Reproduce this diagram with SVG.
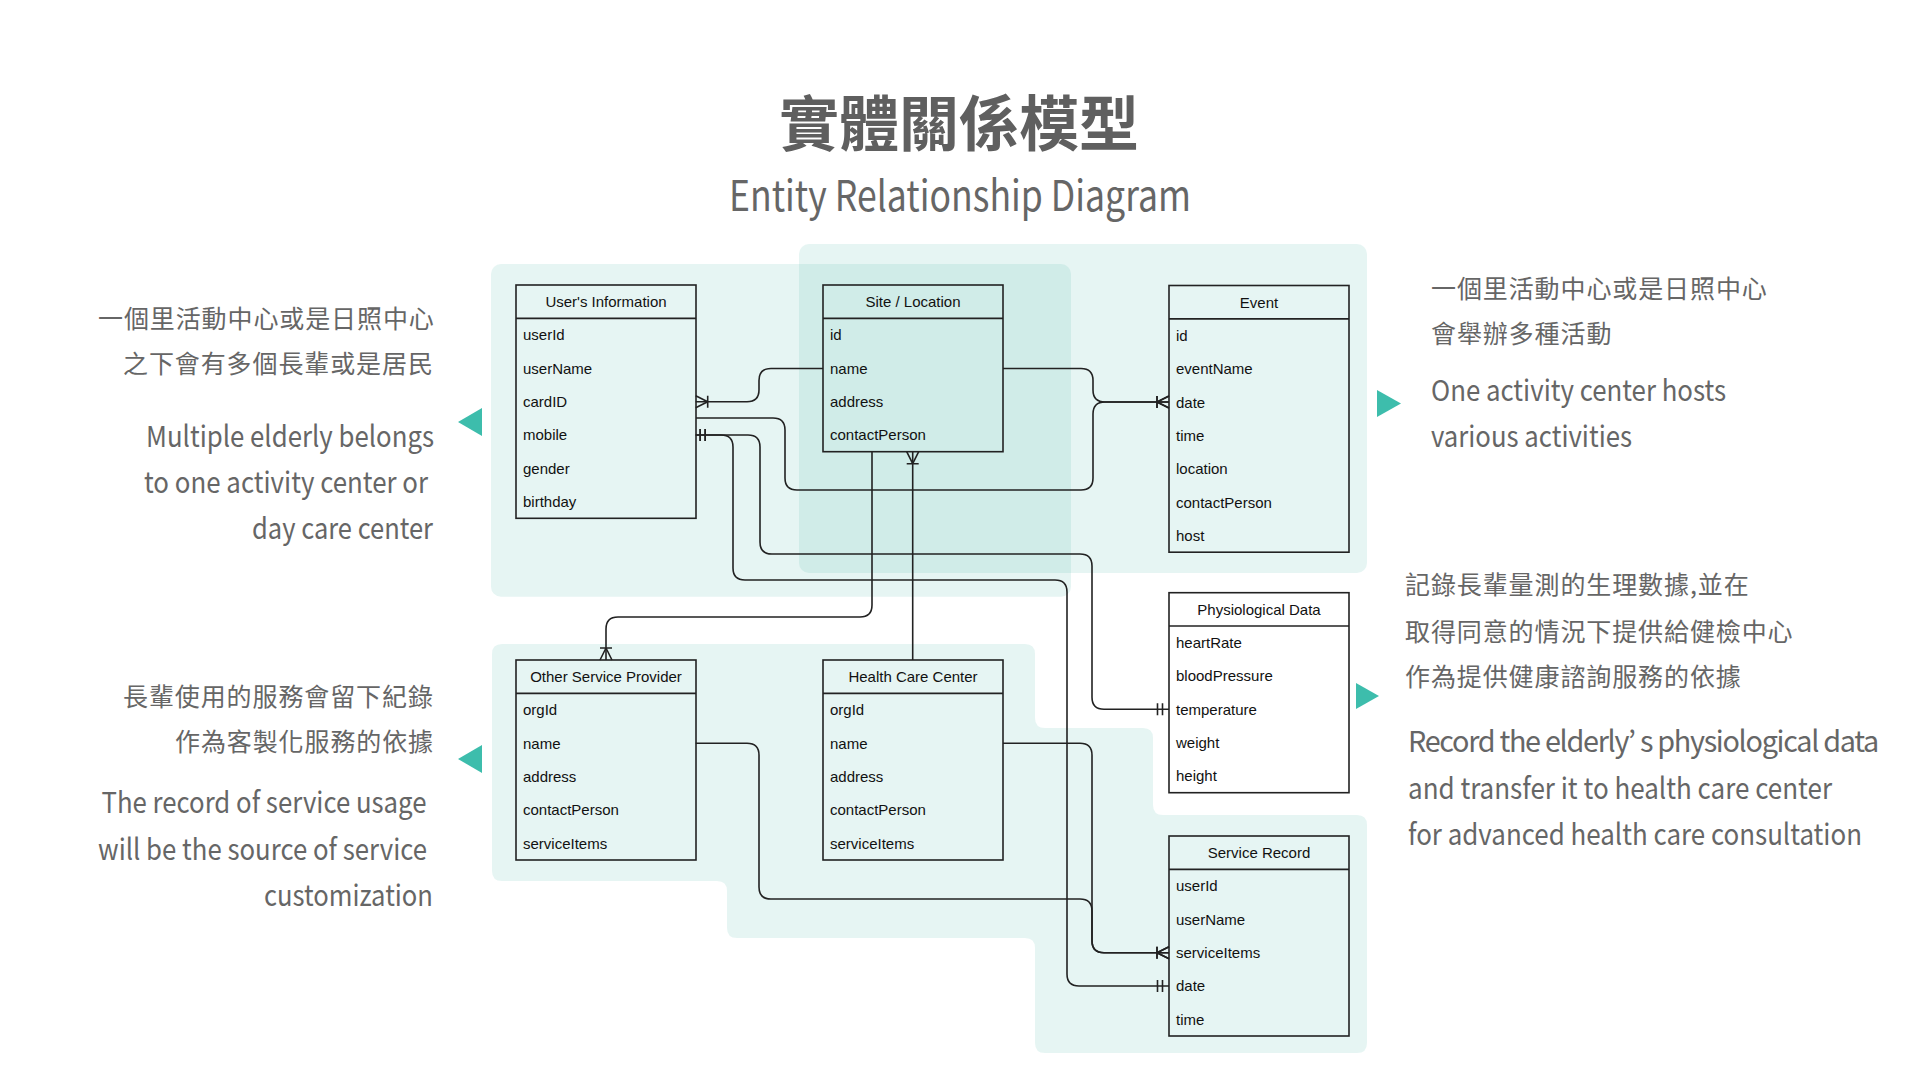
<svg xmlns="http://www.w3.org/2000/svg" width="1920" height="1080" viewBox="0 0 1920 1080">
<style>
.panel{fill:#2FAC9B;fill-opacity:0.12}
.ent rect{fill:none;stroke:#222;stroke-width:1.6}
.ent line{stroke:#222;stroke-width:1.6}
.hdr{font-family:"Liberation Sans",Arial,sans-serif;font-size:15px;fill:#111;text-anchor:middle}
.fld{font-family:"Liberation Sans",Arial,sans-serif;font-size:15px;fill:#111}
.conn path{fill:none;stroke:#222;stroke-width:1.6}
.zh{font-family:"Noto Sans CJK TC","Noto Sans CJK SC",sans-serif;font-size:25px;fill:#666;letter-spacing:0.9px}
.en{font-family:"Noto Sans CJK TC","Noto Sans",sans-serif;font-size:29px;fill:#666}
.kr{font-family:"Noto Sans CJK KR","Noto Sans CJK TC","Noto Sans",sans-serif;letter-spacing:-1.3px}
.tri{fill:#3DBDAC}
.title{font-family:"Noto Sans CJK TC","Noto Sans CJK SC",sans-serif;font-size:60px;font-weight:bold;fill:#5f5f5f;text-anchor:middle}
.sub{font-family:"Noto Sans CJK TC","Noto Sans",sans-serif;font-size:42px;fill:#666}
</style>
<defs>
<marker id="crow" markerUnits="userSpaceOnUse" viewBox="-16 -10 20 20" refX="0" refY="0" markerWidth="20" markerHeight="20" orient="auto-start-reverse" overflow="visible">
<path d="M-12,0 L0,-6 M-12,0 L0,6 M-12,-6 V6" fill="none" stroke="#222" stroke-width="1.6"/>
</marker>
<marker id="oneS" markerUnits="userSpaceOnUse" viewBox="-16 -10 20 20" refX="0" refY="0" markerWidth="20" markerHeight="20" orient="auto-start-reverse" overflow="visible">
<path d="M-4.5,-6 V6 M-9.5,-6 V6" fill="none" stroke="#222" stroke-width="1.6"/>
</marker>
<marker id="oneE" markerUnits="userSpaceOnUse" viewBox="-16 -10 20 20" refX="0" refY="0" markerWidth="20" markerHeight="20" orient="auto-start-reverse" overflow="visible">
<path d="M-6.5,-6 V6 M-11.5,-6 V6" fill="none" stroke="#222" stroke-width="1.6"/>
</marker>
</defs>
<rect x="0" y="0" width="1920" height="1080" fill="#ffffff"/>

<g id="panels">
<rect class="panel" x="491" y="264" width="580" height="332.7" rx="10"/>
<rect class="panel" x="799" y="244" width="568" height="329" rx="10"/>
<path class="panel" d="M502,644 H1025 Q1035,644 1035,654 V718 Q1035,728 1045,728 H1143 Q1153,728 1153,738 V805 Q1153,815 1163,815 H1357 Q1367,815 1367,825 V1043 Q1367,1053 1357,1053 H1045 Q1035,1053 1035,1043 V948 Q1035,938 1025,938 H737 Q727,938 727,928 V891 Q727,881 717,881 H502 Q492,881 492,871 V654 Q492,644 502,644 Z"/>
</g>

<g id="title">
<text class="title" x="959" y="146">實體關係模型</text>
<text class="sub" x="729" y="210.7" textLength="462" lengthAdjust="spacingAndGlyphs">Entity Relationship Diagram</text>
</g>

<g id="note-left-top">
<text class="zh" x="98" y="328">一個里活動中心或是日照中心</text>
<text class="zh" x="123" y="373">之下會有多個長輩或是居民</text>
<text class="en" x="146" y="446.7" textLength="288" lengthAdjust="spacingAndGlyphs">Multiple elderly belongs</text>
<text class="en" x="144" y="493" textLength="284" lengthAdjust="spacingAndGlyphs">to one activity center or</text>
<text class="en" x="252" y="539" textLength="181" lengthAdjust="spacingAndGlyphs">day care center</text>
<polygon class="tri" points="458,422 482,408 482,436"/>
</g>

<g id="note-left-bottom">
<text class="zh" x="123" y="706">長輩使用的服務會留下紀錄</text>
<text class="zh" x="175" y="751">作為客製化服務的依據</text>
<text class="en" x="101.5" y="813.3" textLength="325" lengthAdjust="spacingAndGlyphs">The record of service usage</text>
<text class="en" x="98" y="859.5" textLength="329" lengthAdjust="spacingAndGlyphs">will be the source of service</text>
<text class="en" x="264" y="905.5" textLength="169" lengthAdjust="spacingAndGlyphs">customization</text>
<polygon class="tri" points="458,759 482,745 482,773"/>
</g>

<g id="note-right-top">
<text class="zh" x="1431" y="298">一個里活動中心或是日照中心</text>
<text class="zh" x="1431" y="343">會舉辦多種活動</text>
<text class="en" x="1431" y="400.5" textLength="295" lengthAdjust="spacingAndGlyphs">One activity center hosts</text>
<text class="en" x="1431" y="446.5" textLength="201" lengthAdjust="spacingAndGlyphs">various activities</text>
<polygon class="tri" points="1377,390 1377,417 1401,403.5"/>
</g>

<g id="note-right-bottom">
<text class="zh" x="1405" y="594">記錄長輩量測的生理數據,並在</text>
<text class="zh" x="1405" y="641">取得同意的情況下提供給健檢中心</text>
<text class="zh" x="1405" y="686">作為提供健康諮詢服務的依據</text>
<text class="en kr" x="1408" y="751.7" textLength="470" lengthAdjust="spacingAndGlyphs">Record the elderly’ s physiological data</text>
<text class="en" x="1408" y="798.5" textLength="424" lengthAdjust="spacingAndGlyphs">and transfer it to health care center</text>
<text class="en" x="1408" y="845" textLength="454" lengthAdjust="spacingAndGlyphs">for advanced health care consultation</text>
<polygon class="tri" points="1356,683 1356,709 1379,696"/>
</g>

<g id="connectors" class="conn">
<path d="M823,368.5 H771 Q759,368.5 759,380.5 V389.7 Q759,401.7 747,401.7 H695.7" marker-end="url(#crow)"/>
<path d="M696,418 H773 Q785,418 785,430 V478 Q785,490 797,490 H1081 Q1093,490 1093,478 V414 Q1093,402 1105,402 H1169" marker-end="url(#crow)"/>
<path d="M1003,368.5 H1081 Q1093,368.5 1093,380.5 V390 Q1093,402 1105,402 H1169" marker-end="url(#crow)"/>
<path d="M695.7,435 H748 Q760,435 760,447 V542 Q760,554 772,554 H1080 Q1092,554 1092,566 V697.3 Q1092,709.3 1104,709.3 H1169" marker-start="url(#oneS)" marker-end="url(#oneE)"/>
<path d="M695.7,435 H721 Q733,435 733,447 V568 Q733,580 745,580 H1055 Q1067,580 1067,592 V974 Q1067,986 1079,986 H1169" marker-start="url(#oneS)" marker-end="url(#oneE)"/>
<path d="M872,451.7 V605 Q872,617 860,617 H618 Q606,617 606,629 V660" marker-end="url(#crow)"/>
<path d="M912.7,660 V451.7" marker-end="url(#crow)"/>
<path d="M695.7,743.3 H747 Q759,743.3 759,755.3 V887 Q759,899 771,899 H1080 Q1092,899 1092,911 V940.7 Q1092,952.7 1104,952.7 H1169" marker-end="url(#crow)"/>
<path d="M1003,743.3 H1080 Q1092,743.3 1092,755.3 V940.7 Q1092,952.7 1104,952.7 H1169" marker-end="url(#crow)"/>
</g>

<g id="users-information" class="ent" transform="translate(516,285)">
<rect x="0" y="0" width="180" height="233.3"/>
<line x1="0" y1="33.33" x2="180" y2="33.33"/>
<text class="hdr" x="90" y="22">User's Information</text>
<text class="fld" x="7" y="55.3">userId</text>
<text class="fld" x="7" y="88.6">userName</text>
<text class="fld" x="7" y="122">cardID</text>
<text class="fld" x="7" y="155.3">mobile</text>
<text class="fld" x="7" y="188.6">gender</text>
<text class="fld" x="7" y="222">birthday</text>
</g>

<g id="site-location" class="ent" transform="translate(823,285)">
<rect x="0" y="0" width="180" height="166.7"/>
<line x1="0" y1="33.33" x2="180" y2="33.33"/>
<text class="hdr" x="90" y="22">Site / Location</text>
<text class="fld" x="7" y="55.3">id</text>
<text class="fld" x="7" y="88.6">name</text>
<text class="fld" x="7" y="122">address</text>
<text class="fld" x="7" y="155.3">contactPerson</text>
</g>

<g id="event" class="ent" transform="translate(1169,285.5)">
<rect x="0" y="0" width="180" height="266.7"/>
<line x1="0" y1="33.33" x2="180" y2="33.33"/>
<text class="hdr" x="90" y="22">Event</text>
<text class="fld" x="7" y="55.3">id</text>
<text class="fld" x="7" y="88.6">eventName</text>
<text class="fld" x="7" y="122">date</text>
<text class="fld" x="7" y="155.3">time</text>
<text class="fld" x="7" y="188.6">location</text>
<text class="fld" x="7" y="222">contactPerson</text>
<text class="fld" x="7" y="255.3">host</text>
</g>

<g id="physiological-data" class="ent" transform="translate(1169,592.7)">
<rect x="0" y="0" width="180" height="200"/>
<line x1="0" y1="33.33" x2="180" y2="33.33"/>
<text class="hdr" x="90" y="22">Physiological Data</text>
<text class="fld" x="7" y="55.3">heartRate</text>
<text class="fld" x="7" y="88.6">bloodPressure</text>
<text class="fld" x="7" y="122">temperature</text>
<text class="fld" x="7" y="155.3">weight</text>
<text class="fld" x="7" y="188.6">height</text>
</g>

<g id="other-service-provider" class="ent" transform="translate(516,660)">
<rect x="0" y="0" width="180" height="200"/>
<line x1="0" y1="33.33" x2="180" y2="33.33"/>
<text class="hdr" x="90" y="22">Other Service Provider</text>
<text class="fld" x="7" y="55.3">orgId</text>
<text class="fld" x="7" y="88.6">name</text>
<text class="fld" x="7" y="122">address</text>
<text class="fld" x="7" y="155.3">contactPerson</text>
<text class="fld" x="7" y="188.6">serviceItems</text>
</g>

<g id="health-care-center" class="ent" transform="translate(823,660)">
<rect x="0" y="0" width="180" height="200"/>
<line x1="0" y1="33.33" x2="180" y2="33.33"/>
<text class="hdr" x="90" y="22">Health Care Center</text>
<text class="fld" x="7" y="55.3">orgId</text>
<text class="fld" x="7" y="88.6">name</text>
<text class="fld" x="7" y="122">address</text>
<text class="fld" x="7" y="155.3">contactPerson</text>
<text class="fld" x="7" y="188.6">serviceItems</text>
</g>

<g id="service-record" class="ent" transform="translate(1169,836)">
<rect x="0" y="0" width="180" height="200"/>
<line x1="0" y1="33.33" x2="180" y2="33.33"/>
<text class="hdr" x="90" y="22">Service Record</text>
<text class="fld" x="7" y="55.3">userId</text>
<text class="fld" x="7" y="88.6">userName</text>
<text class="fld" x="7" y="122">serviceItems</text>
<text class="fld" x="7" y="155.3">date</text>
<text class="fld" x="7" y="188.6">time</text>
</g>
</svg>
